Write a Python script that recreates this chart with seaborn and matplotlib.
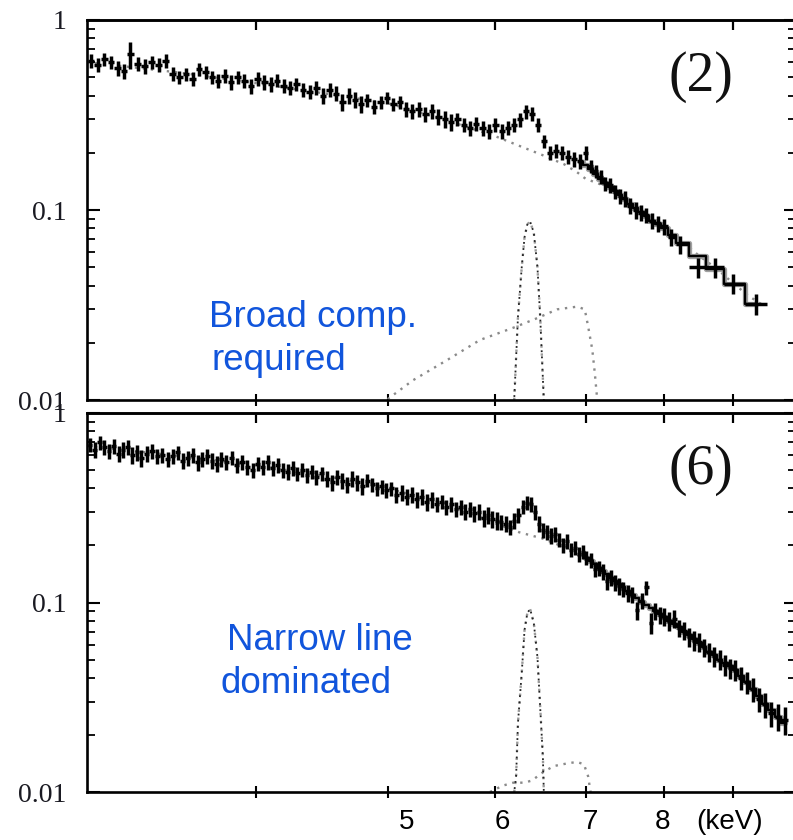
import numpy as np
import matplotlib
matplotlib.use("Agg")
import matplotlib.pyplot as plt
import matplotlib.transforms as mtransforms
from matplotlib.ticker import FixedLocator, NullFormatter, NullLocator, LogLocator
import seaborn as sns

# ---------------- data ----------------
# Panel (2): observed spectrum
energy_2 = [3.02, 3.055, 3.09, 3.125, 3.16, 3.195, 3.23, 3.27, 3.31, 3.35, 3.39, 3.43, 3.47, 3.51,
            3.55, 3.59, 3.63, 3.67, 3.71, 3.75, 3.79, 3.83, 3.875, 3.92, 3.965, 4.01, 4.055, 4.10,
            4.145, 4.19, 4.235, 4.28, 4.33, 4.38, 4.43, 4.48, 4.53, 4.58, 4.63, 4.68, 4.73, 4.78,
            4.83, 4.885, 4.94, 4.995, 5.05, 5.105, 5.16, 5.215, 5.27, 5.33, 5.39, 5.45, 5.51, 5.57,
            5.63, 5.69, 5.75, 5.81, 5.875, 5.94, 6.005, 6.07, 6.135, 6.20, 6.265, 6.33, 6.395, 6.46,
            6.525, 6.59, 6.655, 6.72, 6.79, 6.86, 6.93, 7.00, 7.06, 7.12, 7.18, 7.24, 7.30, 7.36,
            7.42, 7.48, 7.55, 7.62, 7.69, 7.76, 7.84, 7.92, 8.00, 8.10, 8.22, 8.47, 8.72, 9.00, 9.35]
flux_2 = [0.61, 0.58, 0.62, 0.60, 0.56, 0.54, 0.66, 0.59, 0.57, 0.60, 0.58, 0.61, 0.52, 0.50,
          0.52, 0.49, 0.55, 0.53, 0.50, 0.48, 0.51, 0.47, 0.50, 0.48, 0.45, 0.49, 0.47, 0.46,
          0.48, 0.45, 0.44, 0.46, 0.43, 0.42, 0.44, 0.40, 0.43, 0.41, 0.37, 0.40, 0.38, 0.36,
          0.38, 0.35, 0.37, 0.39, 0.36, 0.37, 0.34, 0.33, 0.34, 0.32, 0.33, 0.31, 0.30, 0.29,
          0.30, 0.28, 0.27, 0.285, 0.27, 0.26, 0.28, 0.26, 0.27, 0.28, 0.30, 0.33, 0.32, 0.28,
          0.23, 0.20, 0.205, 0.20, 0.19, 0.185, 0.18, 0.20, 0.17, 0.16, 0.15, 0.138, 0.135, 0.125,
          0.118, 0.115, 0.105, 0.100, 0.097, 0.094, 0.088, 0.085, 0.082, 0.072, 0.066, 0.050, 0.050, 0.041, 0.032]
err_2 = [0.050, 0.050, 0.050, 0.050, 0.050, 0.050, 0.11, 0.050, 0.050, 0.050, 0.050, 0.050, 0.045, 0.042,
         0.042, 0.042, 0.042, 0.042, 0.042, 0.042, 0.042, 0.042, 0.042, 0.042, 0.042, 0.042, 0.042, 0.042,
         0.037, 0.037, 0.037, 0.037, 0.037, 0.037, 0.037, 0.037, 0.037, 0.037, 0.037, 0.037, 0.037, 0.037,
         0.030, 0.030, 0.030, 0.030, 0.030, 0.030, 0.030, 0.030, 0.030, 0.030, 0.030, 0.030, 0.030, 0.030,
         0.024, 0.024, 0.024, 0.024, 0.024, 0.023, 0.024, 0.023, 0.023, 0.024, 0.025, 0.027, 0.027, 0.024,
         0.019, 0.017, 0.017, 0.017, 0.016, 0.016, 0.016, 0.017, 0.014, 0.013, 0.013, 0.012, 0.012, 0.011,
         0.011, 0.011, 0.010, 0.010, 0.009, 0.009, 0.009, 0.008, 0.008, 0.007, 0.007, 0.006, 0.006, 0.005, 0.004]
# Panel (2): model (step), continuum, narrow and broad iron lines
model_e_2 = [6.93, 7.00, 7.06, 7.12, 7.18, 7.24, 7.30, 7.36, 7.42, 7.48, 7.55, 7.62, 7.69, 7.76,
             7.84, 7.92, 8.00, 8.10, 8.22, 8.47, 8.72, 9.00, 9.35]
model_f_2 = [0.178, 0.172, 0.165, 0.155, 0.146, 0.138, 0.132, 0.126, 0.120, 0.114, 0.108, 0.103, 0.098, 0.093,
             0.088, 0.084, 0.080, 0.074, 0.067, 0.057, 0.049, 0.041, 0.032]
cont_e_2 = [3.0, 3.5, 4.0, 4.5, 5.0, 5.5, 6.0, 6.25, 6.5, 6.75, 6.9, 7.0, 7.25, 7.5, 7.75, 8.0,
            8.25, 8.5, 8.75, 9.0, 9.25, 9.5]
cont_f_2 = [0.60, 0.53, 0.465, 0.41, 0.365, 0.30, 0.245, 0.218, 0.195, 0.174, 0.158, 0.146, 0.133, 0.113,
            0.095, 0.081, 0.068, 0.057, 0.049, 0.041, 0.035, 0.031]
narrow_e_2 = [6.20, 6.24, 6.28, 6.31, 6.34, 6.37, 6.41, 6.45, 6.48, 6.52]
narrow_f_2 = [0.0100, 0.0275, 0.050, 0.072, 0.084, 0.087, 0.076, 0.050, 0.0275, 0.0100]
broad_e_2 = [5.00, 5.22, 5.53, 5.85, 6.19, 6.45, 6.67, 6.90, 6.99, 7.03, 7.08, 7.11, 7.14]
broad_f_2 = [0.0101, 0.0127, 0.0162, 0.0207, 0.024, 0.027, 0.030, 0.031, 0.030, 0.0244, 0.0184, 0.0139, 0.0100]

# Panel (6): observed spectrum
energy_6 = [3.015, 3.04, 3.065, 3.09, 3.115, 3.14, 3.165, 3.19, 3.215, 3.24, 3.265, 3.29, 3.32, 3.35,
            3.38, 3.41, 3.44, 3.47, 3.50, 3.53, 3.56, 3.59, 3.62, 3.65, 3.68, 3.71, 3.74, 3.77,
            3.80, 3.835, 3.87, 3.905, 3.94, 3.975, 4.01, 4.045, 4.08, 4.115, 4.15, 4.185, 4.22, 4.255,
            4.29, 4.325, 4.36, 4.395, 4.43, 4.47, 4.51, 4.55, 4.59, 4.63, 4.67, 4.71, 4.75, 4.79,
            4.83, 4.87, 4.91, 4.95, 4.99, 5.03, 5.075, 5.12, 5.165, 5.21, 5.255, 5.30, 5.345, 5.39,
            5.435, 5.48, 5.525, 5.57, 5.615, 5.66, 5.705, 5.75, 5.795, 5.84, 5.885, 5.93, 5.975, 6.02,
            6.065, 6.11, 6.155, 6.20, 6.245, 6.29, 6.335, 6.38, 6.425, 6.47, 6.515, 6.56, 6.605, 6.65,
            6.695, 6.74, 6.785, 6.83, 6.875, 6.92, 6.965, 7.01, 7.06, 7.11, 7.16, 7.21, 7.26, 7.31,
            7.36, 7.41, 7.46, 7.52, 7.58, 7.64, 7.70, 7.76, 7.82, 7.88, 7.94, 8.00, 8.07, 8.14,
            8.21, 8.28, 8.35, 8.42, 8.49, 8.56, 8.63, 8.71, 8.79, 8.87, 8.95, 9.03, 9.12, 9.21,
            9.30, 9.40, 9.50, 9.60, 9.70, 9.82]
flux_6 = [0.68, 0.64, 0.70, 0.66, 0.63, 0.67, 0.61, 0.64, 0.66, 0.60, 0.62, 0.58, 0.61, 0.63,
          0.59, 0.60, 0.57, 0.59, 0.62, 0.56, 0.58, 0.60, 0.55, 0.57, 0.59, 0.56, 0.54, 0.57,
          0.55, 0.58, 0.53, 0.55, 0.52, 0.50, 0.54, 0.52, 0.55, 0.51, 0.53, 0.50, 0.49, 0.51,
          0.48, 0.50, 0.47, 0.49, 0.46, 0.48, 0.45, 0.43, 0.46, 0.44, 0.42, 0.45, 0.43, 0.41,
          0.44, 0.42, 0.40, 0.41, 0.39, 0.40, 0.37, 0.38, 0.36, 0.37, 0.35, 0.36, 0.34, 0.35,
          0.33, 0.34, 0.32, 0.33, 0.31, 0.32, 0.30, 0.31, 0.295, 0.30, 0.28, 0.29, 0.275, 0.27,
          0.265, 0.26, 0.25, 0.27, 0.29, 0.32, 0.335, 0.33, 0.30, 0.26, 0.24, 0.235, 0.225, 0.23,
          0.215, 0.20, 0.21, 0.19, 0.195, 0.18, 0.185, 0.172, 0.168, 0.150, 0.152, 0.145, 0.130, 0.135,
          0.127, 0.122, 0.118, 0.112, 0.110, 0.091, 0.102, 0.120, 0.078, 0.090, 0.086, 0.084, 0.080, 0.082,
          0.073, 0.071, 0.066, 0.063, 0.062, 0.058, 0.055, 0.052, 0.050, 0.047, 0.045, 0.044, 0.040, 0.038,
          0.035, 0.031, 0.029, 0.026, 0.025, 0.024]
err_6 = [0.060, 0.060, 0.060, 0.060, 0.060, 0.060, 0.060, 0.060, 0.060, 0.060, 0.060, 0.060, 0.060, 0.060,
         0.053, 0.053, 0.053, 0.053, 0.053, 0.053, 0.053, 0.053, 0.053, 0.053, 0.053, 0.053, 0.053, 0.053,
         0.047, 0.047, 0.047, 0.047, 0.047, 0.047, 0.047, 0.047, 0.047, 0.047, 0.047, 0.047, 0.047, 0.047,
         0.042, 0.042, 0.042, 0.042, 0.042, 0.042, 0.042, 0.042, 0.042, 0.042, 0.042, 0.042, 0.042, 0.042,
         0.035, 0.035, 0.035, 0.035, 0.035, 0.035, 0.035, 0.035, 0.035, 0.035, 0.035, 0.035, 0.035, 0.035,
         0.029, 0.029, 0.029, 0.029, 0.029, 0.029, 0.029, 0.029, 0.029, 0.029, 0.029, 0.029, 0.029, 0.029,
         0.025, 0.025, 0.024, 0.025, 0.026, 0.028, 0.029, 0.029, 0.027, 0.025, 0.022, 0.022, 0.021, 0.021,
         0.019, 0.018, 0.019, 0.017, 0.017, 0.016, 0.016, 0.015, 0.015, 0.014, 0.014, 0.014, 0.013, 0.013,
         0.012, 0.012, 0.011, 0.011, 0.011, 0.010, 0.010, 0.010, 0.010, 0.009, 0.009, 0.009, 0.009, 0.009,
         0.0075, 0.0075, 0.0075, 0.0075, 0.007, 0.0065, 0.0065, 0.0065, 0.006, 0.006, 0.0055, 0.0055, 0.0055, 0.005,
         0.005, 0.0045, 0.0045, 0.004, 0.004, 0.004]
model_e_6 = [6.965, 7.01, 7.06, 7.11, 7.16, 7.21, 7.26, 7.31, 7.36, 7.41, 7.46, 7.52, 7.58, 7.64,
             7.70, 7.76, 7.82, 7.88, 7.94, 8.00, 8.07, 8.14, 8.21, 8.28, 8.35, 8.42, 8.49, 8.56,
             8.63, 8.71, 8.79, 8.87, 8.95, 9.03, 9.12, 9.21, 9.30, 9.40, 9.50, 9.60, 9.70, 9.82]
model_f_6 = [0.178, 0.172, 0.165, 0.159, 0.153, 0.147, 0.141, 0.135, 0.130, 0.125, 0.120, 0.115, 0.110, 0.105,
             0.101, 0.097, 0.093, 0.090, 0.087, 0.084, 0.080, 0.077, 0.074, 0.070, 0.067, 0.064, 0.061, 0.058,
             0.055, 0.053, 0.050, 0.048, 0.046, 0.044, 0.041, 0.038, 0.035, 0.032, 0.029, 0.027, 0.025, 0.023]
cont_e_6 = [3.0, 3.5, 4.0, 4.5, 5.0, 5.5, 6.0, 6.25, 6.5, 6.75, 7.0, 7.25, 7.5, 7.75, 8.0, 8.25,
            8.5, 8.75, 9.0, 9.25, 9.5, 9.9]
cont_f_6 = [0.67, 0.595, 0.53, 0.465, 0.40, 0.335, 0.262, 0.235, 0.218, 0.196, 0.168, 0.141, 0.116, 0.098,
            0.084, 0.072, 0.061, 0.051, 0.044, 0.037, 0.029, 0.023]
narrow_e_6 = [6.20, 6.22, 6.24, 6.28, 6.31, 6.34, 6.37, 6.41, 6.45, 6.48, 6.51, 6.52]
narrow_f_6 = [0.0100, 0.0120, 0.0232, 0.0425, 0.0717, 0.088, 0.0924, 0.078, 0.0515, 0.028, 0.0152, 0.0100]
broad_e_6 = [5.95, 6.08, 6.19, 6.31, 6.39, 6.51, 6.63, 6.80, 6.90, 6.98, 7.03, 7.05, 7.06]
broad_f_6 = [0.0100, 0.0108, 0.0112, 0.0112, 0.0115, 0.0127, 0.0137, 0.0142, 0.0144, 0.0140, 0.0121, 0.0106, 0.0100]

x_ticks = [4, 5, 6, 7, 8, 9]
x_tick_labels = ["5", "6", "7", "8"]
x_label_values = [5, 6, 7, 8]
y_ticks = [0.01, 0.1, 1]
y_tick_labels = ["0.01", "0.1", "1"]
panel_tags = ["(2)", "(6)"]
notes = [["Broad comp.", "required"], ["Narrow line", "dominated"]]

# ---------------- figure ----------------
sns.set_theme(style="white")
plt.rcParams['font.family'] = ['DejaVu Sans']

W, H = 793, 840
fig = plt.figure(figsize=(W / 100, H / 100), dpi=100)


def px_axes(left, top, right, bottom):
    return fig.add_axes([left / W, 1 - bottom / H, (right - left) / W, (bottom - top) / H])


ax_top = px_axes(87, 20, 795.5, 400)
ax_bot = px_axes(87, 413, 795.5, 792)

BLUE = "#1155dc"
SERIF = ["Liberation Serif", "DejaVu Serif"]
SANS = ["Liberation Sans", "DejaVu Sans"]


def bin_edges(E):
    E = np.asarray(E, dtype=float)
    mid = np.sqrt(E[:-1] * E[1:])
    lo = np.concatenate([[E[0] ** 2 / mid[0]], mid])
    hi = np.concatenate([mid, [E[-1] ** 2 / mid[-1]]])
    return lo, hi


def draw_panel(ax, E, F, ERR, mE, mF, cE, cF, nE, nF, bE, bF, show_xlabels):
    ax.set_xscale('log')
    ax.set_yscale('log')
    ax.set_facecolor('white')
    # components (dotted)
    sns.lineplot(x=cE, y=cF, ax=ax, color="#8a8a8a", lw=1.7, linestyle=(0, (1, 2.4)),
                 estimator=None, sort=False, zorder=2)
    sns.lineplot(x=bE, y=bF, ax=ax, color="#8a8a8a", lw=1.7, linestyle=(0, (1, 2.4)),
                 estimator=None, sort=False, zorder=2)
    sns.lineplot(x=nE, y=nF, ax=ax, color="#9a9a9a", lw=1.7, linestyle=(0, (1, 2.4)),
                 estimator=None, sort=False, zorder=2)
    sns.lineplot(x=nE, y=nF, ax=ax, color="#222222", lw=1.3, linestyle=(1.7, (1, 2.4)),
                 estimator=None, sort=False, zorder=2)
    # model step with grey halo
    sns.lineplot(x=mE, y=mF, ax=ax, color="#a0a0a0", lw=3.8, drawstyle='steps-mid',
                 estimator=None, sort=False, zorder=3)
    sns.lineplot(x=mE, y=mF, ax=ax, color="black", lw=1.7, drawstyle='steps-mid',
                 estimator=None, sort=False, zorder=4)
    # data crosses
    lo, hi = bin_edges(E)
    Ea = np.asarray(E)
    ax.errorbar(Ea, F, xerr=[Ea - lo, hi - Ea], yerr=ERR, fmt='none', ecolor='black',
                elinewidth=2.5, capsize=0, zorder=5)

    ax.set_xlim(3, 10)
    ax.set_ylim(0.01, 1)
    ax.set_xlabel("")
    ax.set_ylabel("")

    for s in ax.spines.values():
        s.set_visible(True)
        s.set_color('black')
        s.set_linewidth(1.9)

    # x ticks
    ax.xaxis.set_major_locator(FixedLocator(x_ticks))
    ax.xaxis.set_minor_locator(NullLocator())
    ax.xaxis.set_major_formatter(NullFormatter())
    ax.tick_params(axis='x', which='major', direction='inout', length=8, width=1.5,
                   bottom=True, top=False, labelbottom=False, color='black')
    sec = ax.secondary_xaxis('top')
    sec.set_xscale('log')
    sec.xaxis.set_major_locator(FixedLocator(x_ticks))
    sec.xaxis.set_minor_locator(NullLocator())
    sec.xaxis.set_major_formatter(NullFormatter())
    sec.tick_params(axis='x', which='major', direction='in', length=7, width=1.6, color='black')
    sec.spines['top'].set_linewidth(1.9)

    # y ticks
    ax.yaxis.set_major_locator(FixedLocator(y_ticks))
    ax.yaxis.set_minor_locator(LogLocator(base=10, subs=np.arange(2, 10)))
    ax.yaxis.set_minor_formatter(NullFormatter())
    ax.set_yticklabels(y_tick_labels, fontfamily=SERIF, fontsize=20, color="#1a1a22")
    ax.tick_params(axis='y', which='major', direction='in', length=9, width=1.5,
                   left=True, right=True, pad=15, color='black')
    ax.tick_params(axis='y', which='minor', direction='in', length=5.5, width=1.3,
                   left=True, right=True, color='black')

    if show_xlabels:
        offs = [19, 7, 5, -2]
        for val, lab, dx in zip(x_label_values, x_tick_labels, offs):
            tr = mtransforms.blended_transform_factory(ax.transData, ax.transAxes) + \
                mtransforms.ScaledTranslation(dx / 100, -30 / 100, fig.dpi_scale_trans)
            ax.text(val, 0, lab, transform=tr, ha='center', va='center',
                    fontsize=20, fontfamily=SANS, color='black', clip_on=False)


draw_panel(ax_top, energy_2, flux_2, err_2, model_e_2, model_f_2, cont_e_2, cont_f_2,
           narrow_e_2, narrow_f_2, broad_e_2, broad_f_2, False)
draw_panel(ax_bot, energy_6, flux_6, err_6, model_e_6, model_f_6, cont_e_6, cont_f_6,
           narrow_e_6, narrow_f_6, broad_e_6, broad_f_6, True)

fig.text(730 / W, 1 - 822 / H, "(keV)", ha='center', va='center', fontsize=20,
         fontfamily=SANS, color='black')

# panel tags
fig.text(701 / W, 1 - 77 / H, panel_tags[0], ha='center', va='center', fontsize=40,
         fontfamily=SERIF, color='#111111')
fig.text(701 / W, 1 - 470 / H, panel_tags[1], ha='center', va='center', fontsize=40,
         fontfamily=SERIF, color='#111111')

# blue notes
fig.text(209 / W, 1 - 327 / H, notes[0][0], ha='left', va='baseline', fontsize=26.5,
         fontfamily=SANS, color=BLUE)
fig.text(212 / W, 1 - 370 / H, notes[0][1], ha='left', va='baseline', fontsize=26.5,
         fontfamily=SANS, color=BLUE)
fig.text(227 / W, 1 - 650 / H, notes[1][0], ha='left', va='baseline', fontsize=26.5,
         fontfamily=SANS, color=BLUE)
fig.text(221 / W, 1 - 693 / H, notes[1][1], ha='left', va='baseline', fontsize=26.5,
         fontfamily=SANS, color=BLUE)

fig.savefig("out.png", dpi=100, facecolor='white')
